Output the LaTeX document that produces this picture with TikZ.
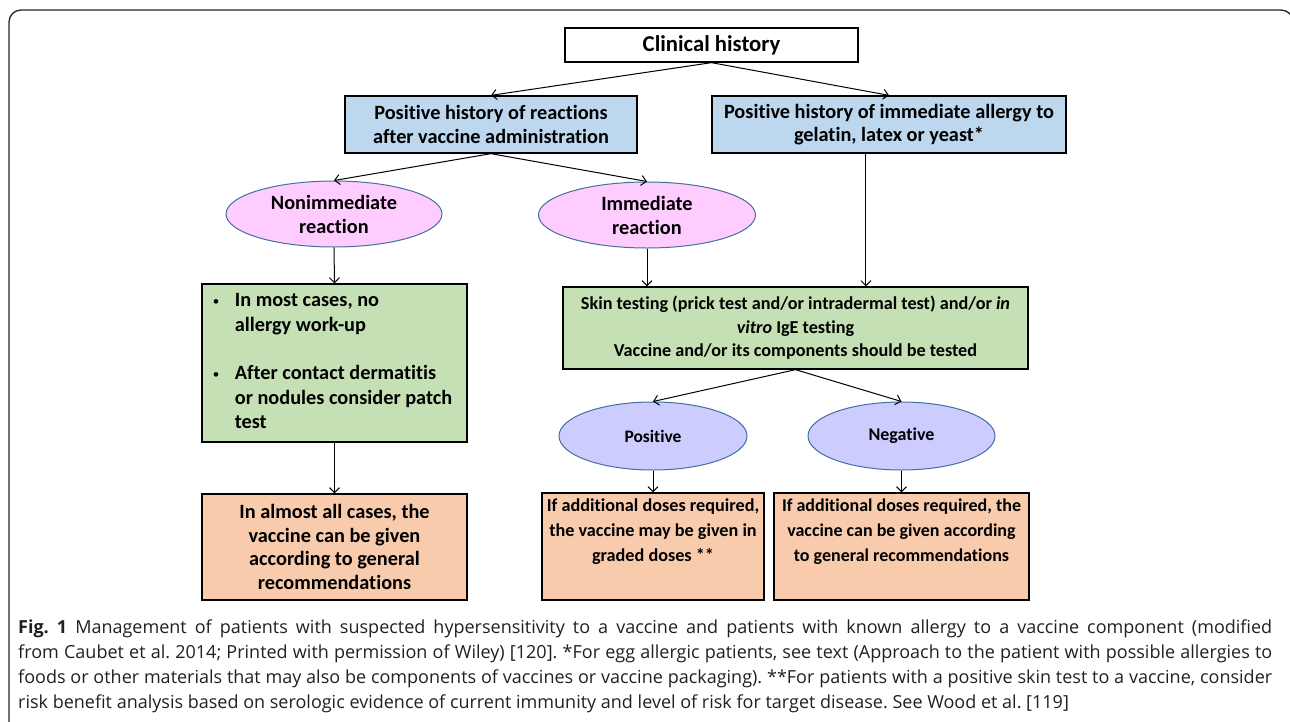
\documentclass[tikz,border=0pt]{standalone}
\usepackage{fontspec}
\setmainfont{Carlito}[Ligatures=NoCommon]
\newfontfamily\capfont{Open Sans}
\usetikzlibrary{shapes.geometric,arrows.meta,calc}
\definecolor{blueF}{RGB}{189,215,238}
\definecolor{pinkF}{RGB}{255,204,255}
\definecolor{greenF}{RGB}{197,224,180}
\definecolor{orangeF}{RGB}{248,203,173}
\definecolor{purpF}{RGB}{204,204,255}
\definecolor{ellB}{RGB}{65,113,156}
\definecolor{capC}{RGB}{35,31,32}
\frenchspacing
\begin{document}
\begin{tikzpicture}[x=1pt,y=-1pt,
  boxst/.style={draw=black, line width=1.3pt, rectangle, inner sep=0pt, align=center,
    font=\fontsize{20.3}{23.5}\selectfont\bfseries},
  ellst/.style={draw=ellB, line width=1pt, ellipse, inner sep=0pt, align=center,
    font=\fontsize{20.3}{24}\selectfont\bfseries},
  arr/.style={draw=black, line width=1pt, -{Straight Barb[length=5pt,width=10pt]}}]
\useasboundingbox (0,0) rectangle (1290,721);
\clip (0,0) rectangle (1290,721);
\draw[line width=1.3pt, draw=black!85, rounded corners=12pt] (9,10) rectangle (1293,760);

\node[boxst, fill=white, minimum width=293, minimum height=34,
  font=\fontsize{22.7}{24}\selectfont\bfseries] (ch) at (711.5,45) {Clinical history};
\node[boxst, fill=blueF, minimum width=292, minimum height=57] (b1) at (491,124.5)
  {Positive history of reactions\\after vaccine administration};
\node[boxst, fill=blueF, minimum width=354, minimum height=57] (b2) at (889,124.5)
  {Positive history of immediate allergy to\\gelatin, latex or yeast*};
\node[ellst, fill=pinkF, minimum width=216, minimum height=66] (e1) at (334,214)
  {Nonimmediate\\reaction};
\node[ellst, fill=pinkF, minimum width=217, minimum height=66] (e2) at (647,215)
  {Immediate\\reaction};
\node[boxst, fill=greenF, minimum width=265, minimum height=158, align=left,
  font=\fontsize{20.3}{24.5}\selectfont\bfseries] (g1) at (334.5,363)
  {\begin{tabular}{@{\hspace{-4pt}}p{22pt}@{}l@{}}
   {\mdseries\fontsize{13}{13}\selectfont\raisebox{1pt}{•}} & In most cases, no\\
   & allergy work-up\\[24pt]
   {\mdseries\fontsize{13}{13}\selectfont\raisebox{1pt}{•}} & After contact dermatitis\\
   & or nodules consider patch\\
   & test
   \end{tabular}};
\node[boxst, fill=greenF, minimum width=465, minimum height=82,
  font=\fontsize{18.2}{23.5}\selectfont\bfseries] (g2) at (795.5,328)
  {Skin testing (prick test and/or intradermal test) and/or \textit{in}\\
   \textit{vitro} IgE testing\\
   Vaccine and/or its components should be tested};
\node[ellst, fill=purpF, minimum width=188, minimum height=68,
  font=\fontsize{17.5}{24}\selectfont\bfseries] (p) at (653,436) {Positive};
\node[ellst, fill=purpF, minimum width=187, minimum height=68,
  font=\fontsize{18}{24}\selectfont\bfseries] (n) at (901.5,436) {Negative};
\node[boxst, fill=orangeF, minimum width=265, minimum height=106] (o1) at (334.5,547)
  {In almost all cases, the\\vaccine can be given\\according to general\\recommendations};
\node[boxst, fill=orangeF, minimum width=222, minimum height=107,
  font=\fontsize{18.2}{25}\selectfont\bfseries] (o2) at (653,546.5)
  {If additional doses required,\\the vaccine may be given in\\graded doses **\\\strut};
\node[boxst, fill=orangeF, minimum width=255, minimum height=107,
  font=\fontsize{18}{25}\selectfont\bfseries] (o3) at (901.5,546.5)
  {If additional doses required, the\\vaccine can be given according\\to general recommendations\\\strut};

\draw[arr] (ch.south) -- (b1.north);
\draw[arr] (ch.south) -- (b2.north);
\draw[arr] (b1.south) -- (e1.north);
\draw[arr] (b1.south) -- (e2.north);
\draw[arr] (e1.south) -- (g1.north);
\draw[arr] (e2.south) -- (g2.north -| e2.south);
\coordinate (b2s) at ($(b2.south west)!0.435!(b2.south east)$);
\draw[arr] (b2s) -- (b2s |- g2.north);
\draw[arr] (g2.south) -- (p.north);
\draw[arr] (g2.south) -- (n.north);
\draw[arr] (g1.south) -- (o1.north);
\draw[arr] (p.south) -- (o2.north);
\draw[arr] (n.south) -- (o3.north);

\node[anchor=north west, inner sep=0pt, text width=1254pt, align=justify, text=capC,
  font=\capfont\fontsize{18}{25}\selectfont] (cap) at (18,620)
  {\textbf{Fig. 1} Management of patients with suspected hypersensitivity to a vaccine and patients with known allergy to a vaccine component (modified\linebreak
   from Caubet et al. 2014; Printed with permission of Wiley) [120]. *For egg allergic patients, see text (Approach to the patient with possible allergies to\linebreak
   foods or other materials that may also be components of vaccines or vaccine packaging). **For patients with a positive skin test to a vaccine, consider\linebreak
   risk benefit analysis based on serologic evidence of current immunity and level of risk for target disease. See Wood et al. [119]};
\end{tikzpicture}
\end{document}
